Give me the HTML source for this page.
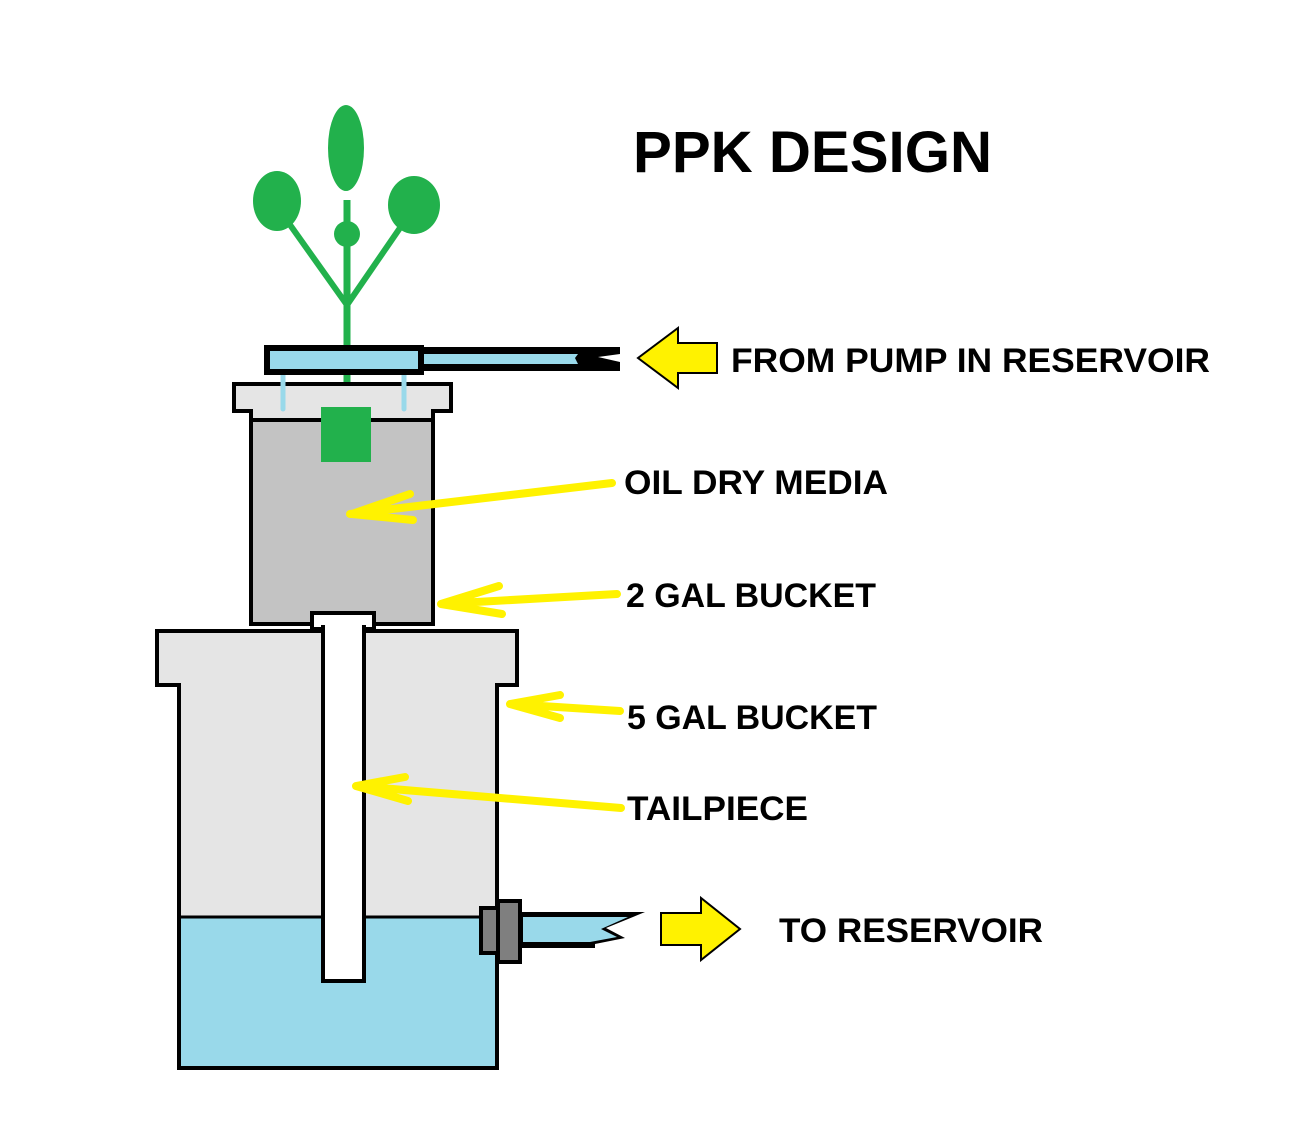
<!DOCTYPE html>
<html><head><style>html,body{margin:0;padding:0;background:#fff;}svg{display:block}</style></head>
<body>
<svg width="1304" height="1140" viewBox="0 0 1304 1140" xmlns="http://www.w3.org/2000/svg">
<g font-family="Liberation Sans, sans-serif" font-weight="bold" fill="#000">
<text x="633" y="172" font-size="58" textLength="359" lengthAdjust="spacingAndGlyphs">PPK DESIGN</text>
<text x="731" y="372" font-size="34" textLength="479" lengthAdjust="spacingAndGlyphs">FROM PUMP IN RESERVOIR</text>
<text x="624" y="494" font-size="34" textLength="264" lengthAdjust="spacingAndGlyphs">OIL DRY MEDIA</text>
<text x="626" y="607" font-size="34" textLength="250" lengthAdjust="spacingAndGlyphs">2 GAL BUCKET</text>
<text x="627" y="729" font-size="34" textLength="250" lengthAdjust="spacingAndGlyphs">5 GAL BUCKET</text>
<text x="627" y="820" font-size="34" textLength="181" lengthAdjust="spacingAndGlyphs">TAILPIECE</text>
<text x="779" y="942" font-size="34" textLength="264" lengthAdjust="spacingAndGlyphs">TO RESERVOIR</text>
</g>
<!-- plant -->
<g fill="#22b14c" stroke="#22b14c">
<line x1="347" y1="200" x2="347" y2="410" stroke-width="7"/>
<line x1="347" y1="305" x2="288" y2="222" stroke-width="6"/>
<line x1="347" y1="305" x2="402" y2="225" stroke-width="6"/>
<ellipse cx="346" cy="148" rx="18" ry="43" stroke="none"/>
<circle cx="347" cy="234" r="13" stroke="none"/>
<ellipse cx="277" cy="201" rx="24" ry="30" stroke="none"/>
<ellipse cx="414" cy="205" rx="26" ry="29" stroke="none"/>
</g>
<!-- 5 gal bucket -->
<path d="M157 631 H517 V685 H497 V1068 H179 V685 H157 Z" fill="#e5e5e5" stroke="#000" stroke-width="4"/>
<rect x="181" y="918" width="314" height="149" fill="#99d9ea"/>
<line x1="179" y1="917" x2="497" y2="917" stroke="#000" stroke-width="3"/>
<path d="M157 631 H517 V685 H497 V1068 H179 V685 H157 Z" fill="none" stroke="#000" stroke-width="4"/>
<!-- 2 gal bucket -->
<path d="M234 384 H451 V411 H433 V624 H251 V411 H234 Z" fill="#e5e5e5" stroke="#000" stroke-width="4"/>
<rect x="253" y="422" width="178" height="200" fill="#c3c3c3"/>
<line x1="251" y1="420" x2="433" y2="420" stroke="#000" stroke-width="4"/>
<!-- tailpiece -->
<rect x="312" y="613" width="62" height="16" fill="#fff" stroke="#000" stroke-width="4"/>
<rect x="323" y="627" width="41" height="354" fill="#fff" stroke="#000" stroke-width="4"/>
<rect x="325" y="620" width="37" height="12" fill="#fff"/>
<!-- drips -->
<line x1="283" y1="365" x2="283" y2="409" stroke="#99d9ea" stroke-width="5" stroke-linecap="round"/>
<line x1="404" y1="365" x2="404" y2="409" stroke="#99d9ea" stroke-width="5" stroke-linecap="round"/>
<rect x="321" y="407" width="50" height="55" fill="#22b14c"/>
<!-- lid -->
<path d="M424 347 H620 V354 L598 357 L620 362 V371 H424 Z" fill="#000"/>
<path d="M424 354 H578 L575 358 L578 364 H424 Z" fill="#99d9ea"/>
<rect x="267" y="348" width="154" height="24" fill="#99d9ea" stroke="#000" stroke-width="6"/>
<line x1="347" y1="300" x2="347" y2="345" stroke="#22b14c" stroke-width="7"/>
<!-- outlet -->
<path d="M521 912 H645 L606 928 L625 938 L595 944 V948 H521 Z" fill="#000"/>
<path d="M523 917 H628 L601 929 L617 937 L590 942 H523 Z" fill="#99d9ea"/>
<rect x="481" y="908" width="17" height="45" fill="#7f7f7f" stroke="#000" stroke-width="4"/>
<rect x="498" y="901" width="22" height="61" fill="#7f7f7f" stroke="#000" stroke-width="4"/>
<!-- big arrows -->
<path d="M717 343 H678 V328 L638 358 L678 388 V373 H717 Z" fill="#fff200" stroke="#000" stroke-width="2"/>
<path d="M661 913 H701 V898 L740 929 L701 960 V945 H661 Z" fill="#fff200" stroke="#000" stroke-width="2"/>
<!-- yellow hand arrows -->
<g stroke="#fff200" stroke-width="8" fill="none" stroke-linecap="round" stroke-linejoin="round">
<path d="M612 483 L350 514 M410 494 L352 514 L413 520"/>
<path d="M617 594 L441 604 M499 586 L441 604 L502 614"/>
<path d="M620 711 L510 704 M560 695 L510 704 L560 718"/>
<path d="M621 808 L356 786 M405 777 L356 786 L408 801"/>
</g>
</svg>
</body></html>
